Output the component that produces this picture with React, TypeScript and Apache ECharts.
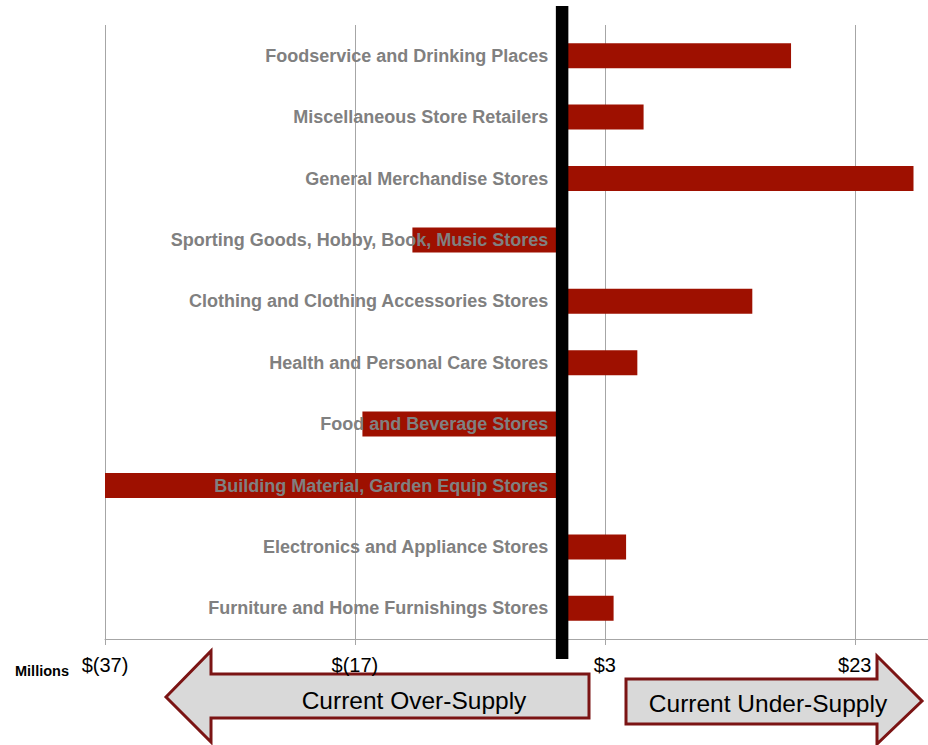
import React, { useEffect, useRef } from "react";
import * as echarts from "echarts";

const categories = [
  "Foodservice and Drinking Places",
  "Miscellaneous Store Retailers",
  "General Merchandise Stores",
  "Sporting Goods, Hobby, Book, Music Stores",
  "Clothing and Clothing Accessories Stores",
  "Health and Personal Care Stores",
  "Food and Beverage Stores",
  "Building Material, Garden Equip Stores",
  "Electronics and Appliance Stores",
  "Furniture and Home Furnishings Stores",
];

const gapValues = [17.9, 6.1, 27.7, -12.4, 14.8, 5.6, -16.4, -37.0, 4.7, 3.7];

const axisMin = -37;
const axisMax = 29.5;
const axisInterval = 20;

const unitLabel = "Millions";
const overSupplyLabel = "Current Over-Supply";
const underSupplyLabel = "Current Under-Supply";

const fmtMoney = (v: number) => {
  const r = Math.round(v);
  return r < 0 ? `$(${Math.abs(r)})` : `$${r}`;
};

export default function App() {
  const ref = useRef<HTMLDivElement>(null);

  useEffect(() => {
    if (!ref.current) return;
    const chart = echarts.init(ref.current, undefined, { renderer: "svg" });
    chart.setOption({
      animation: false,
      backgroundColor: "#ffffff",
      grid: {
        left: 105,
        right: -8,
        top: 25,
        bottom: 106,
        containLabel: false,
        outerBoundsMode: "none",
      },
      xAxis: {
        type: "value",
        min: axisMin,
        max: axisMax,
        interval: axisInterval,
        axisLine: { show: true, onZero: false, lineStyle: { color: "#a6a6a6", width: 1 } },
        axisTick: { show: true, length: 6, lineStyle: { color: "#a6a6a6" } },
        splitLine: { show: true, lineStyle: { color: "#a6a6a6", width: 1 } },
        axisLabel: {
          showMaxLabel: false,
          formatter: (v: number) => fmtMoney(v),
          color: "#000000",
          fontFamily: "Liberation Sans, Arial, sans-serif",
          fontSize: 20,
          margin: 16,
        },
      },
      yAxis: {
        type: "category",
        data: categories,
        inverse: true,
        z: 10,
        axisLine: { show: false, onZero: false },
        axisTick: { show: false },
        splitLine: { show: false },
        axisLabel: {
          color: "#808080",
          fontFamily: "Liberation Sans, Arial, sans-serif",
          fontWeight: "bold",
          fontSize: 18,
          margin: 19,
        },
      },
      series: [
        {
          type: "bar",
          data: gapValues,
          barWidth: 25,
          itemStyle: { color: "#9e1000" },
        },
      ],
    });

    const x0 = chart.convertToPixel({ xAxisIndex: 0 }, 0) as number;
    const xLeft = chart.convertToPixel({ xAxisIndex: 0 }, axisMin) as number;

    const arrowStroke = "#7b1414";
    const arrowFill = "#d9d9d9";

    chart.setOption({
      yAxis: { offset: -(x0 - xLeft) },
      graphic: [
        {
          type: "rect",
          z: 5,
          shape: { x: x0 - 11.5, y: 6, width: 12.5, height: 653 },
          style: { fill: "#000000" },
        },
        {
          type: "text",
          left: 15,
          top: 663,
          style: {
            text: unitLabel,
            fill: "#000000",
            font: "bold 14.5px 'Liberation Sans', Arial, sans-serif",
          },
        },
        {
          type: "polygon",
          shape: {
            points: [
              [166, 697],
              [211, 651],
              [211, 674],
              [589, 674],
              [589, 718],
              [211, 718],
              [211, 742],
            ],
          },
          style: { fill: arrowFill, stroke: arrowStroke, lineWidth: 3 },
        },
        {
          type: "text",
          x: 414,
          y: 700,
          style: {
            text: overSupplyLabel,
            fill: "#000000",
            font: "24.5px 'Liberation Sans', Arial, sans-serif",
            align: "center",
            verticalAlign: "middle",
          },
        },
        {
          type: "polygon",
          shape: {
            points: [
              [626, 679],
              [877, 679],
              [877, 656],
              [922, 701],
              [877, 744],
              [877, 724],
              [626, 724],
            ],
          },
          style: { fill: arrowFill, stroke: arrowStroke, lineWidth: 3 },
        },
        {
          type: "text",
          x: 768,
          y: 703,
          style: {
            text: underSupplyLabel,
            fill: "#000000",
            font: "24.5px 'Liberation Sans', Arial, sans-serif",
            align: "center",
            verticalAlign: "middle",
          },
        },
      ],
    });

    return () => chart.dispose();
  }, []);

  return (
    <div
      ref={ref}
      style={{ position: "absolute", left: 0, top: 0, width: 928, height: 745 }}
    />
  );
}
